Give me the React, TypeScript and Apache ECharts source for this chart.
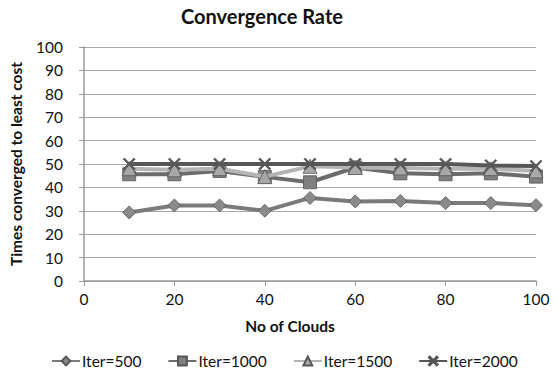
import React, { useEffect, useRef } from "react";
import * as echarts from "echarts";

const clouds = [10, 20, 30, 40, 50, 60, 70, 80, 90, 100];
const iter500 = [29.3, 32.3, 32.3, 30, 35.5, 34, 34.2, 33.3, 33.3, 32.4];
const iter1000 = [45.6, 45.6, 47, 44.5, 42.2, 48.5, 46, 45.6, 46, 44.6];
const iter1500 = [48, 47.5, 48, 44.6, 49, 48.5, 48.3, 48, 48, 47];
const iter2000 = [50, 50, 50, 50, 50, 50, 50, 50, 49.4, 49.1];
const seriesNames = ["Iter=500", "Iter=1000", "Iter=1500", "Iter=2000"];

const FONT = "Lato, 'Open Sans', sans-serif";
const CROSS =
  "path://M0,1 L1,0 L5,4 L9,0 L10,1 L6,5 L10,9 L9,10 L5,6 L1,10 L0,9 L4,5 Z";

export default function App() {
  const ref = useRef<HTMLDivElement>(null);
  useEffect(() => {
    if (!ref.current) return;
    const chart = echarts.init(ref.current, undefined, { renderer: "svg" });
    const mk = (
      name: string,
      values: number[],
      lineColor: string,
      markColor: string,
      symbol: string,
      size: number,
      z: number
    ) => ({
      name,
      type: "line",
      data: clouds.map((c, i) => [c, values[i]]),
      symbol,
      symbolSize: size,
      z,
      lineStyle: { color: lineColor, width: 4 },
      itemStyle: { color: markColor, borderColor: "#555", borderWidth: 0.8 },
    });
    chart.setOption({
      animation: false,
      backgroundColor: "#fff",
      title: {
        text: "Convergence Rate",
        left: 176,
        top: 1,
        textStyle: { fontFamily: FONT, fontWeight: "bold", fontSize: 20, color: "#111" },
      },
      grid: { left: 82, right: 22, top: 47, bottom: 95 },
      xAxis: {
        type: "value",
        min: 0,
        max: 100,
        interval: 20,
        name: "No of Clouds",
        nameLocation: "middle",
        nameGap: 37,
        nameTextStyle: {
          fontFamily: FONT,
          fontWeight: "bold",
          fontSize: 15.5,
          color: "#111",
          padding: [0, 40, 0, 0],
        },
        axisLine: { show: true, lineStyle: { color: "#999", width: 1.5 } },
        axisTick: { show: true, length: 5, lineStyle: { color: "#999" } },
        axisLabel: { fontFamily: FONT, fontSize: 15.5, color: "#111", margin: 10 },
        splitLine: { show: false },
      },
      yAxis: {
        type: "value",
        min: 0,
        max: 100,
        interval: 10,
        name: "Times converged to least cost",
        nameLocation: "middle",
        nameGap: 60,
        nameTextStyle: { fontFamily: FONT, fontWeight: "bold", fontSize: 15.5, color: "#111" },
        axisLine: { show: true, lineStyle: { color: "#999", width: 1.5 } },
        axisTick: { show: true, length: 5, lineStyle: { color: "#999" } },
        axisLabel: { fontFamily: FONT, fontSize: 15.5, color: "#111", margin: 21 },
        splitLine: { show: true, lineStyle: { color: "#a8a8a8", width: 1.2 } },
      },
      legend: {
        bottom: 2,
        left: 46,
        itemWidth: 28,
        itemHeight: 11,
        itemGap: 26,
        data: seriesNames,
        textStyle: { fontFamily: FONT, fontSize: 15.5, color: "#111", padding: [0, 0, 0, -3] },
      },
      series: [
        mk(seriesNames[0], iter500, "#7a7a7a", "#8a8a8a", "diamond", 13, 2),
        mk(seriesNames[1], iter1000, "#6c6c6c", "#808080", "rect", 13, 3),
        mk(seriesNames[2], iter1500, "#b4b4b4", "#a8a8a8", "triangle", 14, 4),
        mk(seriesNames[3], iter2000, "#575757", "#5a5a5a", CROSS, 12, 5),
      ],
    });
    return () => chart.dispose();
  }, []);
  return <div ref={ref} style={{ width: 558, height: 376, margin: -8 }} />;
}
